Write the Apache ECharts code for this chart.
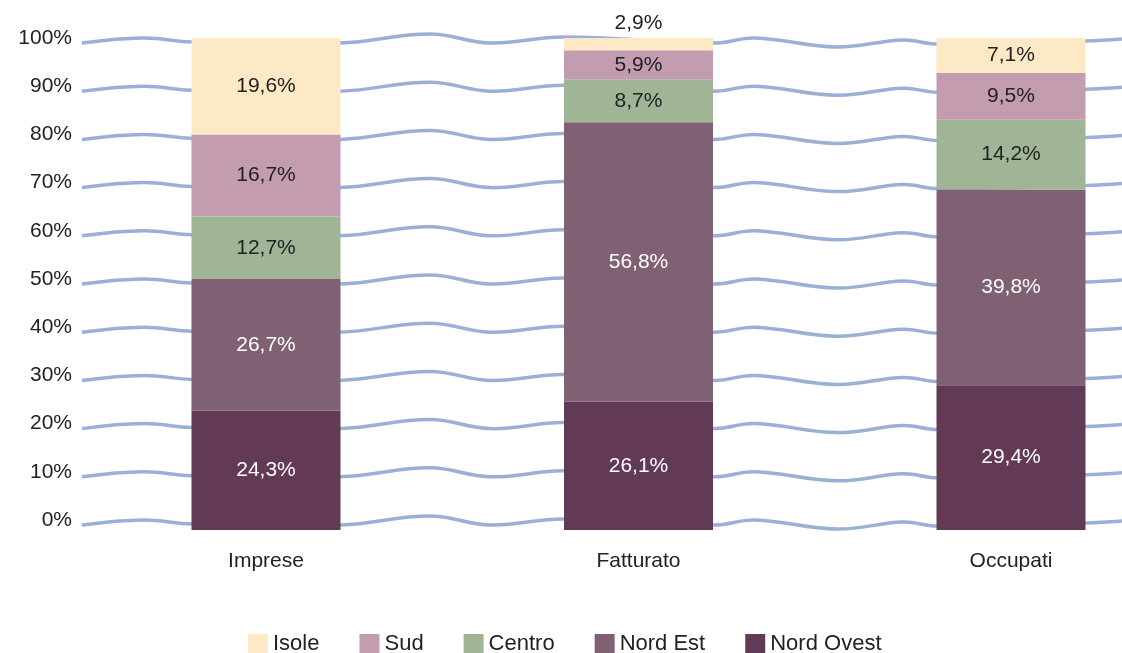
<!DOCTYPE html>
<html>
<head>
<meta charset="utf-8">
<script src="https://cdn.jsdelivr.net/npm/echarts@6/dist/echarts.min.js"></script>
<style>
  html, body { margin: 0; padding: 0; background: #fff; }
  #chart { width: 1122px; height: 653px; }
</style>
</head>
<body>
<div id="chart"></div>
<script>
// categorie e valori (quote percentuali per ripartizione)
const categories = ['Imprese', 'Fatturato', 'Occupati']
const nordOvest = [24.3, 26.1, 29.4]
const nordEst = [26.7, 56.8, 39.8]
const centro = [12.7, 8.7, 14.2]
const sud = [16.7, 5.9, 9.5]
const isole = [19.6, 2.9, 7.1]
const yTicks = [0, 10, 20, 30, 40, 50, 60, 70, 80, 90, 100]

// profilo decorativo delle linee di griglia ondulate: [x px, scostamento px]
const wavePath = [[82, 5], [143, 0], [192, 4], [340, 5], [430, -4], [490, 5], [563, -1],
  [714, 5], [755, 0], [837, 9], [903, 2], [937, 6], [1086, 3], [1122, 1]]

const fontFamily = '"Liberation Sans", Arial, sans-serif'
const fmt = v => String(v).replace('.', ',') + '%'

function barSeries(name, data, color, textColor) {
  return {
    name: name,
    type: 'bar',
    stack: 'tot',
    barWidth: 149,
    yAxisIndex: 0,
    z: 3,
    itemStyle: { color: color },
    label: {
      show: true,
      position: 'inside',
      color: textColor,
      fontSize: 21,
      fontFamily: fontFamily,
      formatter: p => fmt(p.value)
    },
    data: data
  }
}

const chart = echarts.init(document.getElementById('chart'))

const isoleSeries = barSeries('Isole', isole, '#fde9c5', '#222')
// la quota isole del fatturato è troppo piccola: etichetta sopra la barra
isoleSeries.data = isole.map((v, i) => i === 1
  ? { value: v, label: { position: 'top', distance: 4 } }
  : v)

chart.setOption({
  animation: false,
  textStyle: { fontFamily: fontFamily },
  // categorie sui bordi (boundaryGap false): griglia dal centro della prima all'ultima barra
  grid: { left: 266, right: 111, top: 38, bottom: 123 },
  legend: {
    data: ['Isole', 'Sud', 'Centro', 'Nord Est', 'Nord Ovest'],
    left: 243,
    top: 628,
    itemWidth: 20,
    itemHeight: 20,
    itemGap: 40,
    icon: 'rect',
    textStyle: { fontSize: 22, color: '#222', fontFamily: fontFamily }
  },
  xAxis: {
    type: 'category',
    data: categories,
    boundaryGap: false,
    axisLine: { show: false },
    axisTick: { show: false },
    axisLabel: { fontSize: 21, color: '#222', margin: 21 }
  },
  yAxis: [
    { type: 'value', min: 0, max: 100, show: false },
    {
      type: 'value',
      min: -2.07,
      max: 100,
      position: 'left',
      axisLine: { show: false },
      axisTick: { show: false },
      splitLine: { show: false },
      axisLabel: {
        customValues: yTicks,
        formatter: v => v + '%',
        fontSize: 21,
        color: '#222',
        margin: 194
      }
    }
  ],
  series: [
    {
      type: 'custom',
      name: 'griglia',
      yAxisIndex: 1,
      z: 1,
      silent: true,
      clip: false,
      data: yTicks.map(v => [0, v]),
      encode: { x: 0, y: 1 },
      renderItem: (params, api) => {
        const y0 = api.coord([0, api.value(1)])[1]
        return {
          type: 'polyline',
          shape: { points: wavePath.map(p => [p[0], y0 + p[1]]), smooth: 0.4 },
          style: { fill: null, stroke: '#9bb0d7', lineWidth: 3.5 }
        }
      }
    },
    barSeries('Nord Ovest', nordOvest, '#623a56', '#fff'),
    barSeries('Nord Est', nordEst, '#806173', '#fff'),
    barSeries('Centro', centro, '#a0b595', '#222'),
    barSeries('Sud', sud, '#c49caf', '#222'),
    isoleSeries
  ]
})
</script>
</body>
</html>
